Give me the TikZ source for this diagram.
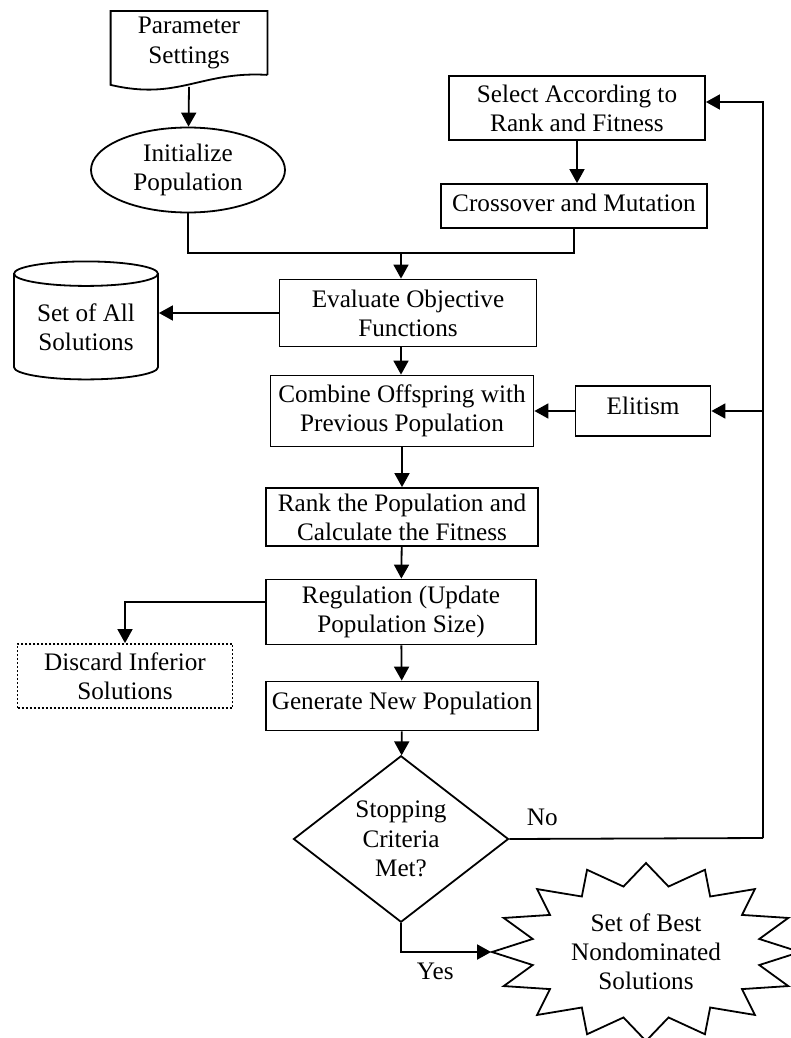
\documentclass[tikz,border=0pt]{standalone}
\usepackage{fontspec}
\setmainfont{Liberation Serif}
\usetikzlibrary{shapes.geometric, arrows.meta}

\begin{document}
\begin{tikzpicture}[x=0.5pt, y=-0.5pt, line width=0.9pt,
    every node/.style={font=\fontsize{12.6}{14.6}\selectfont, align=center, inner sep=0pt},
    box/.style={draw, rectangle},
    arr/.style={-{Triangle[length=7pt, width=7.5pt]}}]

    \useasboundingbox (0,0) rectangle (791,1038);
    \clip (0,0) rectangle (791,1038);

    \def \cx {401};

    % left column
    \node[minimum width=77.5pt, minimum height=31pt] (param) at (189,43) {Parameter\\Settings};
    \draw (param.south east) -- (param.north east) -- (param.north west) -- ([yshift=-5pt]param.south west)
        .. controls +(68,16) and +(-67,-4) .. (param.south east);

    \node[draw, ellipse, minimum width=97pt, minimum height=42.5pt] (init) at (188,170) {Initialize\\Population};

    \node[draw, cylinder, shape border rotate=90, aspect=0.25, minimum width=72pt, minimum height=59pt] (allsol) at (86,327) {Set of All\\Solutions};

    \node[draw, dash pattern=on 1pt off 1pt, minimum width=107.5pt, minimum height=32pt] (disc) at (125,676) {Discard Inferior\\Solutions};

    % right column
    \node[box, minimum width=128pt, minimum height=32pt] (sel) at (577,108) {Select According to\\Rank and Fitness};
    \node[box, minimum width=133pt, minimum height=22pt, text depth=3pt] (cross) at (574,206) {Crossover and Mutation};
    \node[box, minimum width=67.5pt, minimum height=25pt, text depth=5pt] (elit) at (643,411) {Elitism};

    % main column
    \node[box, minimum width=128.5pt, minimum height=33.5pt] (eval) at (408,313) {Evaluate Objective\\Functions};
    \node[box, minimum width=131.5pt, minimum height=35.5pt] (comb) at (402,411) {Combine Offspring with\\Previous Population};
    \node[box, minimum width=136pt, minimum height=29pt] (rank) at (402,517) {Rank the Population and\\Calculate the Fitness};
    \node[box, minimum width=135pt, minimum height=32.5pt] (reg) at (\cx,612) {Regulation (Update\\Population Size)};
    \node[box, minimum width=136pt, minimum height=24.5pt, text depth=5pt] (gen) at (402,706) {Generate New Population};
    \node[draw, diamond, minimum width=107.5pt, minimum height=79pt] (stop) at (\cx,839) {Stopping\\Criteria\\Met?};

    \node[ellipse, minimum width=154pt, minimum height=89pt] (best) at (646,952) {Set of Best\\Nondominated\\Solutions};
    \begin{scope}[shift={(best.center)}]
        \draw[line join=miter] plot[samples at={0,...,31}]
            ({(154-38.5*mod(\x,2))*cos(90+11.25*\x)}, {(89-22.25*mod(\x,2))*sin(90+11.25*\x)}) -- cycle;
    \end{scope}

    \coordinate (merge) at (\cx,253);
    \coordinate (loop) at (763,838);

    % connectors
    \draw[arr] ([yshift=-6pt]param.south) -- (init);
    \draw (init.south) |- (merge) -| (cross.south);
    \draw[arr] (sel.south) -- (sel.south |- cross.north);
    \draw[arr] (merge) -- (merge |- eval.north);
    \draw[arr] (eval.west) -- (eval.west -| allsol.east);
    \draw[arr] (merge |- eval.south) -- (merge |- comb.north);
    \draw[arr] (elit) -- (comb);
    \draw[arr] (comb) -- (rank);
    \draw[arr] (rank) -- (reg);
    \draw[arr] (reg) -- (gen);
    \draw[arr] (gen) -- (stop);
    \draw[arr] ([yshift=5pt]reg.west) -| (disc);

    \draw (stop.east) -- node[pos=0.13, above=6pt] (no) {No} (loop);
    \draw[arr] (loop) |- ([yshift=3pt]sel.east);
    \draw[arr] (loop |- elit) -- (elit);
    \draw[arr] (stop.south) |- node[pos=0.69, below=5pt] (yes) {Yes} (best.west);
\end{tikzpicture}
\end{document}
